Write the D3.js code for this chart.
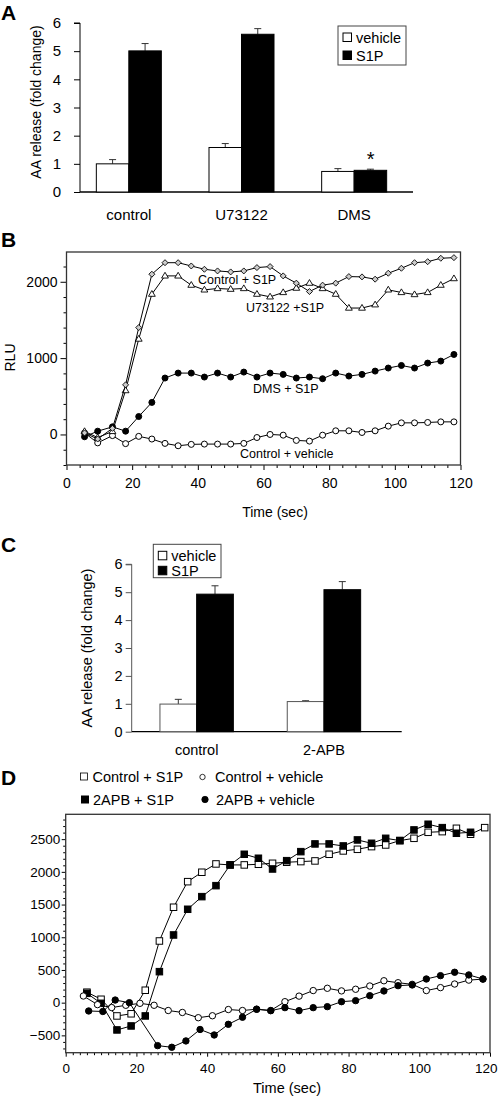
<!DOCTYPE html>
<html><head><meta charset="utf-8">
<script src="https://cdn.jsdelivr.net/npm/d3@7"></script>
<style>html,body{margin:0;padding:0;background:#fff;} svg{display:block;} text{font-family:"Liberation Sans",Arial,sans-serif;fill:#000;}</style>
</head><body>
<script>
// ---------- DATA ----------
const categoriesA = ["control", "U73122", "DMS"];
const vehicleA = [1.0, 1.58, 0.73];
const vehicleErrA = [0.15, 0.14, 0.1];
const s1pA = [5.01, 5.6, 0.77];
const s1pErrA = [0.26, 0.2, 0.04];
const yTicksA = [0, 1, 2, 3, 4, 5, 6];

const timeB = [5.5, 9.5, 14, 18, 22, 26, 30, 34, 38, 42, 46, 50, 54, 58, 62, 66, 70, 74, 78, 82, 86, 90, 94, 98, 102, 106, 110, 114, 118];
const ctrlS1P_B = [20, -60, 80, 650, 1400, 2099, 2250, 2250, 2207, 2164, 2142, 2129, 2142, 2186, 2199, 2077, 1982, 1872, 1956, 1982, 2068, 2064, 2034, 2112, 2177, 2250, 2263, 2308, 2316];
const u73122S1P_B = [40, -40, 40, 575, 1250, 1838, 2077, 2077, 1956, 1894, 1912, 1903, 1912, 1838, 1803, 1860, 1917, 1982, 1912, 1838, 1656, 1656, 1699, 1894, 1860, 1833, 1860, 1956, 2042];
const dmsS1P_B = [-30, 43, 100, 43, 235, 420, 739, 804, 804, 752, 804, 752, 817, 752, 804, 787, 739, 752, 730, 804, 765, 787, 830, 870, 904, 870, 935, 961, 1048];
const ctrlVeh_B = [20, -110, -15, -120, -25, -60, -117, -148, -130, -126, -126, -126, -117, -40, 0, -9, -78, -87, -9, 48, 48, 26, 48, 109, 152, 152, 157, 165, 165];
const yTicksB = [0, 1000, 2000];
const xTicksB = [0, 20, 40, 60, 80, 100, 120];

const categoriesC = ["control", "2-APB"];
const vehicleC = [0.99, 1.08];
const vehicleErrC = [0.17, 0.03];
const s1pC = [4.93, 5.09];
const s1pErrC = [0.3, 0.29];
const yTicksC = [0, 1, 2, 3, 4, 5, 6];

const timeD_sq = [6, 10, 14.5, 18.5, 22.5, 26.5, 30.5, 34.5, 38.5, 42.5, 46.5, 50.5, 54.5, 58.5, 62.5, 66.5, 70.5, 74.5, 78.5, 82.5, 86.5, 90.5, 94.5, 98.5, 102.5, 106.5, 110.5, 114.5, 118.5];
const ctrlS1P_D = [160, 52, -203, -170, 190, 943, 1459, 1850, 1994, 2121, 2106, 2106, 2116, 2131, 2147, 2157, 2167, 2269, 2320, 2345, 2386, 2411, 2478, 2513, 2605, 2615, 2666, 2575, 2676];
const apbS1P_D = [143, -10, -417, -356, -203, 474, 1035, 1428, 1621, 1789, 2106, 2269, 2208, 2044, 2171, 2309, 2427, 2427, 2396, 2488, 2437, 2513, 2478, 2641, 2728, 2676, 2590, 2605];
const timeD_oc = [5, 9, 13, 17, 21, 25, 29, 33, 37.5, 41.5, 46, 50, 54, 58, 62, 66, 70, 74, 78, 82, 86, 90, 94, 98, 102, 106, 110, 114, 118];
const ctrlVeh_D = [102, -30, -75, -40, -10, -40, -120, -150, -230, -200, -105, -120, -100, -120, 15, 100, 185, 220, 180, 205, 255, 335, 305, 280, 185, 230, 285, 345, 360];
const timeD_fc = [6.5, 10.5, 14, 18, 26, 30, 34, 38, 42, 46, 50, 54, 58, 62, 66, 70, 74, 78, 82, 86, 90, 94, 98, 102, 106, 110, 114, 118];
const apbVeh_D = [-127, -135, 40, 0, -657, -682, -585, -410, -494, -331, -223, -101, -122, -76, -122, -76, -61, 15, 31, 107, 179, 260, 271, 362, 413, 465, 424, 362];
const yTicksD = [-500, 0, 500, 1000, 1500, 2000, 2500];
const xTicksD = [0, 20, 40, 60, 80, 100, 120];

// ---------- SETUP ----------
const svg = d3.select("body").append("svg").attr("width", 498).attr("height", 1096);
const FONT = '"Liberation Sans", Arial, sans-serif';

function panelLetter(t, x, y) {
  svg.append("text").attr("x", x).attr("y", y).attr("font-size", 21).attr("font-weight", "bold").text(t);
}
function styleAxis(g, fs, color) {
  g.selectAll("text").attr("font-size", fs).attr("font-family", FONT).attr("fill", "#000");
  g.selectAll("line").attr("stroke", color || "#000");
  g.selectAll("path.domain").attr("stroke", color || "#000");
}

// ---------- BAR PANEL ----------
function barPanel(cfg) {
  const y = d3.scaleLinear().domain([0, 6]).range([cfg.y0, cfg.y6]);
  const x = d3.scaleBand().domain(cfg.cats).range(cfg.bandRange);
  const g = svg.append("g");
  const ya = g.append("g").attr("transform", `translate(${cfg.axisX},0)`)
    .call(d3.axisLeft(y).tickValues(cfg.ticks).tickSize(6).tickPadding(cfg.tickPad).tickFormat(d3.format("d")));
  ya.select("path.domain").attr("d", `M-6,${y(6)}H0V${y(0)}`);
  styleAxis(ya, cfg.fs, cfg.axisColor);
  g.append("line").attr("x1", cfg.axisX).attr("x2", cfg.axisEnd).attr("y1", y(0)).attr("y2", y(0))
    .attr("stroke", "#000").attr("stroke-width", 1.3);
  const sub = d3.scaleBand().domain(["vehicle", "S1P"]).range([-cfg.bw, cfg.bw]);
  const rows = cfg.cats.map((c, i) => ({c, v: cfg.veh[i], ve: cfg.vehErr[i], s: cfg.s1p[i], se: cfg.s1pErr[i]}));
  rows.forEach(r => {
    const cx = x(r.c) + x.bandwidth() / 2;
    [["vehicle", r.v, r.ve, "#fff", cfg.vehStroke], ["S1P", r.s, r.se, "#000", "#000"]].forEach(([k, v, e, fill, st]) => {
      const bx = cx + sub(k);
      const mx = bx + sub.bandwidth() / 2;
      g.append("line").attr("x1", mx).attr("x2", mx).attr("y1", y(v)).attr("y2", y(v + e)).attr("stroke", "#333").attr("stroke-width", 1);
      g.append("line").attr("x1", mx - 3.5).attr("x2", mx + 3.5).attr("y1", y(v + e)).attr("y2", y(v + e)).attr("stroke", "#333").attr("stroke-width", 1);
      g.append("rect").attr("x", bx).attr("y", y(v)).attr("width", sub.bandwidth()).attr("height", y(0) - y(v))
        .attr("fill", fill).attr("stroke", st).attr("stroke-width", 1);
    });
    g.append("text").attr("x", cx).attr("y", cfg.catY).attr("text-anchor", "middle").attr("font-size", cfg.fs).text(r.c);
  });
  g.append("text").attr("transform", `translate(${cfg.labelX},${cfg.labelY}) rotate(-90)`).attr("text-anchor", "middle")
    .attr("font-size", cfg.labelFs).text("AA release (fold change)");
  const L = cfg.legend;
  g.append("rect").attr("x", L.x).attr("y", L.y).attr("width", L.w).attr("height", L.h).attr("fill", "#fff").attr("stroke", "#444").attr("stroke-width", 1);
  [["vehicle", "#fff"], ["S1P", "#000"]].forEach(([t, f], i) => {
    g.append("rect").attr("x", L.x + 5).attr("y", L.y + 7 + i * L.dy).attr("width", 8.5).attr("height", 8.5).attr("fill", f).attr("stroke", "#000");
    g.append("text").attr("x", L.x + 18).attr("y", L.y + 16.5 + i * L.dy).attr("font-size", L.fs).text(t);
  });
  return {g, x, y};
}

// Panel A
panelLetter("A", 1, 20);
const pA = barPanel({cats: categoriesA, veh: vehicleA, vehErr: vehicleErrA, s1p: s1pA, s1pErr: s1pErrA, ticks: yTicksA,
  y0: 192, y6: 23, bandRange: [72.5, 410.5], axisX: 80, axisEnd: 413, bw: 32.5, tickPad: 13, fs: 15, axisColor: "#000",
  vehStroke: "#000", catY: 220, labelX: 40.5, labelY: 102, labelFs: 14,
  legend: {x: 338, y: 26, w: 68, h: 39, dy: 18, fs: 14.5}});
pA.g.append("text").attr("x", pA.x("DMS") + pA.x.bandwidth() / 2 + 16.5).attr("y", pA.y(s1pA[2] + s1pErrA[2]) - 3)
  .attr("text-anchor", "middle").attr("font-size", 20).text("*");

// Panel C
panelLetter("C", 1, 552);
barPanel({cats: categoriesC, veh: vehicleC, vehErr: vehicleErrC, s1p: s1pC, s1pErr: s1pErrC, ticks: yTicksC,
  y0: 731.7, y6: 564.3, bandRange: [133, 387.6], axisX: 131.7, axisEnd: 401.7, bw: 36.7, tickPad: 3, fs: 14.5, axisColor: "#555",
  vehStroke: "#555", catY: 755, labelX: 92, labelY: 648, labelFs: 14.5,
  legend: {x: 153.3, y: 544.3, w: 67.7, h: 33.4, dy: 15, fs: 14.5}});

// ---------- LINE PANEL helpers ----------
function drawSeries(g, x, y, ts, vs, marker) {
  const pts = ts.map((t, i) => [t, vs[i]]).filter(p => p[1] !== undefined);
  g.append("path").datum(pts).attr("fill", "none").attr("stroke", "#000").attr("stroke-width", 1)
    .attr("d", d3.line().x(d => x(d[0])).y(d => y(d[1])));
  const m = g.append("g");
  pts.forEach(p => {
    const cx = x(p[0]), cy = y(p[1]);
    if (marker.type === "circle") {
      m.append("circle").attr("cx", cx).attr("cy", cy).attr("r", marker.r).attr("fill", marker.fill).attr("stroke", "#000").attr("stroke-width", 1);
    } else if (marker.type === "square") {
      m.append("rect").attr("x", cx - marker.s / 2).attr("y", cy - marker.s / 2).attr("width", marker.s).attr("height", marker.s)
        .attr("fill", marker.fill).attr("stroke", "#000").attr("stroke-width", 1);
    } else if (marker.type === "diamond") {
      const r = marker.r;
      m.append("path").attr("d", `M${cx},${cy - r}L${cx + r},${cy}L${cx},${cy + r}L${cx - r},${cy}Z`)
        .attr("fill", marker.fill).attr("stroke", "#000").attr("stroke-width", 0.9);
    } else if (marker.type === "triangle") {
      const r = marker.r;
      m.append("path").attr("d", `M${cx},${cy - r}L${cx + r * 0.95},${cy + r * 0.6}L${cx - r * 0.95},${cy + r * 0.6}Z`)
        .attr("fill", marker.fill).attr("stroke", "#000").attr("stroke-width", 0.9);
    }
  });
}
function minorRange(a, b, step) { const out = []; for (let v = a; v <= b + 1e-9; v += step) out.push(+v.toFixed(3)); return out; }

// ---------- Panel B ----------
panelLetter("B", 1, 247);
{
  const x = d3.scaleLinear().domain([0, 120]).range([66.5, 460.5]);
  const y = d3.scaleLinear().domain([-400, 2390]).range([465, 252]);
  const g = svg.append("g");
  const yMin = g.append("g").attr("transform", `translate(${x(0)},0)`)
    .call(d3.axisLeft(y).tickValues(minorRange(-400, 2200, 200).filter(v => !yTicksB.includes(v))).tickSize(3).tickFormat(""));
  yMin.select("path.domain").remove();
  const yMaj = g.append("g").attr("transform", `translate(${x(0)},0)`)
    .call(d3.axisLeft(y).tickValues(yTicksB).tickSize(6).tickPadding(3).tickFormat(d3.format("d")));
  yMaj.select("path.domain").remove();
  styleAxis(yMaj, 14);
  const xMin = g.append("g").attr("transform", `translate(0,${y(-400)})`)
    .call(d3.axisBottom(x).tickValues(minorRange(0, 120, 4).filter(v => v % 20 !== 0)).tickSize(3).tickFormat(""));
  xMin.select("path.domain").remove();
  const xMaj = g.append("g").attr("transform", `translate(0,${y(-400)})`)
    .call(d3.axisBottom(x).tickValues(xTicksB).tickSize(5).tickPadding(8).tickFormat(d3.format("d")));
  xMaj.select("path.domain").remove();
  styleAxis(xMaj, 14);
  g.append("rect").attr("x", x(0)).attr("y", y(2390)).attr("width", x(120) - x(0)).attr("height", y(-400) - y(2390))
    .attr("fill", "none").attr("stroke", "#333").attr("stroke-width", 1.3);
  drawSeries(g, x, y, timeB, ctrlVeh_B, {type: "circle", r: 3, fill: "#fff"});
  drawSeries(g, x, y, timeB, dmsS1P_B, {type: "circle", r: 3, fill: "#000"});
  drawSeries(g, x, y, timeB, u73122S1P_B, {type: "triangle", r: 3.6, fill: "#fff"});
  drawSeries(g, x, y, timeB, ctrlS1P_B, {type: "diamond", r: 3, fill: "#ccc"});
  const lab = [["Control + S1P", 198, 283.5], ["U73122 +S1P", 246, 311.5], ["DMS + S1P", 253, 392.5], ["Control + vehicle", 240, 457.5]];
  lab.forEach(([t, lx, ly]) => g.append("text").attr("x", lx).attr("y", ly).attr("font-size", 12.5).text(t));
  g.append("text").attr("transform", `translate(14.5,357.5) rotate(-90)`).attr("text-anchor", "middle").attr("font-size", 14).text("RLU");
  g.append("text").attr("x", 275).attr("y", 517).attr("text-anchor", "middle").attr("font-size", 14).text("Time (sec)");
}

// ---------- Panel D ----------
panelLetter("D", 1, 785);
{
  const x = d3.scaleLinear().domain([0, 120]).range([65.7, 490]);
  const y = d3.scaleLinear().domain([-765, 2880]).range([1052.7, 814.3]);
  const g = svg.append("g");
  const yMin = g.append("g").attr("transform", `translate(${x(0)},0)`)
    .call(d3.axisLeft(y).tickValues(minorRange(-700, 2800, 100).filter(v => v % 500 !== 0)).tickSize(2.5).tickFormat(""));
  yMin.select("path.domain").remove();
  const yMaj = g.append("g").attr("transform", `translate(${x(0)},0)`)
    .call(d3.axisLeft(y).tickValues(yTicksD).tickSize(4).tickPadding(1.5).tickFormat(d3.format("d")));
  yMaj.select("path.domain").remove();
  styleAxis(yMaj, 13.5);
  const xMin = g.append("g").attr("transform", `translate(0,${y(-765)})`)
    .call(d3.axisBottom(x).tickValues(minorRange(0, 120, 2).filter(v => v % 20 !== 0)).tickSize(2.5).tickFormat(""));
  xMin.select("path.domain").remove();
  const xMaj = g.append("g").attr("transform", `translate(0,${y(-765)})`)
    .call(d3.axisBottom(x).tickValues(xTicksD).tickSize(4).tickPadding(7).tickFormat(d3.format("d")));
  xMaj.select("path.domain").remove();
  styleAxis(xMaj, 13.5);
  // keep the last label inside the page
  xMaj.selectAll(".tick text").filter(d => d === 120).attr("text-anchor", "end").attr("dx", 7);
  g.append("rect").attr("x", x(0)).attr("y", y(2880)).attr("width", x(120) - x(0)).attr("height", y(-765) - y(2880))
    .attr("fill", "none").attr("stroke", "#333").attr("stroke-width", 1.3);
  drawSeries(g, x, y, timeD_sq, ctrlS1P_D, {type: "square", s: 6.5, fill: "#fff"});
  drawSeries(g, x, y, timeD_sq.slice(0, apbS1P_D.length), apbS1P_D, {type: "square", s: 6.5, fill: "#000"});
  drawSeries(g, x, y, timeD_oc, ctrlVeh_D, {type: "circle", r: 3.2, fill: "#fff"});
  drawSeries(g, x, y, timeD_fc, apbVeh_D, {type: "circle", r: 3.2, fill: "#000"});
  g.append("text").attr("x", 287).attr("y", 1093).attr("text-anchor", "middle").attr("font-size", 14.5).text("Time (sec)");
  const leg = [
    {t: "Control + S1P", type: "square", fill: "#fff", lx: 84, ly: 776.5, tx: 92.5, ty: 781.5},
    {t: "Control + vehicle", type: "circle", fill: "#fff", lx: 202.5, ly: 777, tx: 215, ty: 781.5},
    {t: "2APB + S1P", type: "square", fill: "#000", lx: 85, ly: 799.5, tx: 93, ty: 805},
    {t: "2APB + vehicle", type: "circle", fill: "#000", lx: 205, ly: 799.5, tx: 216, ty: 805}
  ];
  leg.forEach(l => {
    if (l.type === "square") {
      g.append("rect").attr("x", l.lx - 3.5).attr("y", l.ly - 3.5).attr("width", 7).attr("height", 7).attr("fill", l.fill).attr("stroke", "#000").attr("stroke-width", l.fill === "#fff" ? 0.8 : 1);
    } else {
      g.append("circle").attr("cx", l.lx).attr("cy", l.ly).attr("r", l.fill === "#fff" ? 2.7 : 3.2).attr("fill", l.fill).attr("stroke", "#000").attr("stroke-width", 0.8);
    }
    g.append("text").attr("x", l.tx).attr("y", l.ty).attr("font-size", 14.5).text(l.t);
  });
}
</script>
</body></html>
